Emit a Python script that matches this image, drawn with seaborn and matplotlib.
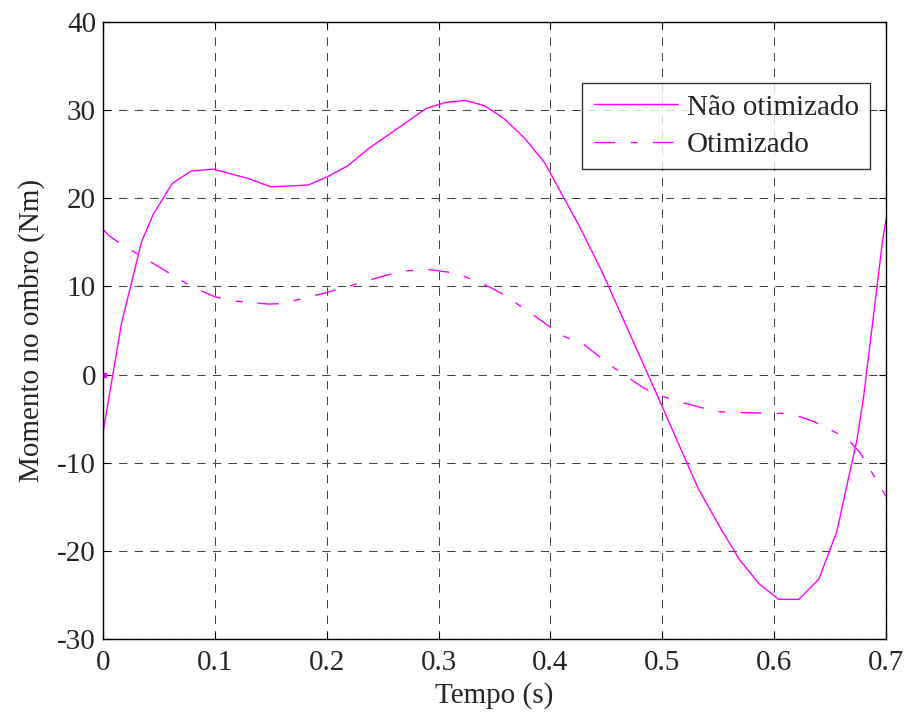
import matplotlib
matplotlib.use("Agg")
import matplotlib.pyplot as plt
import seaborn as sns
import pandas as pd

# Não otimizado (solid)
t_nao = [0.0, 0.0167, 0.0346, 0.045, 0.062, 0.079, 0.0986, 0.131, 0.150, 0.1835,
         0.200, 0.219, 0.237, 0.271, 0.289, 0.307, 0.324, 0.341, 0.359, 0.377,
         0.395, 0.426, 0.446, 0.496, 0.532, 0.552, 0.569, 0.587, 0.604, 0.622,
         0.640, 0.656, 0.674, 0.680, 0.697, 0.700]
v_nao = [-6.6, 5.9, 15.1, 18.2, 21.7, 23.1, 23.3, 22.2, 21.3, 21.5,
         22.4, 23.7, 25.6, 28.6, 30.2, 30.9, 31.1, 30.5, 29.0, 26.8,
         24.0, 16.8, 11.7, -2.5, -12.9, -17.4, -21.0, -23.8, -25.5, -25.5,
         -23.2, -17.8, -7.4, -2.5, 15.3, 17.6]

# Otimizado (dash-dot)
t_oti = [0.0, 0.005, 0.015, 0.079, 0.0986, 0.112, 0.148, 0.160, 0.200, 0.219,
         0.265, 0.274, 0.292, 0.316, 0.343, 0.358, 0.391, 0.409, 0.430, 0.453,
         0.483, 0.496, 0.513, 0.548, 0.566, 0.605, 0.614, 0.635, 0.665, 0.677, 0.700]
v_oti = [16.5, 15.8, 14.9, 10.0, 8.9, 8.4, 8.0, 8.05, 9.3, 10.0,
         11.7, 11.8, 11.9, 11.5, 10.1, 9.1, 6.2, 4.5, 3.4, 1.1,
         -1.5, -2.3, -3.0, -4.2, -4.3, -4.4, -4.4, -5.3, -7.2, -8.9, -13.8]

labels = ["Não otimizado", "Otimizado"]
xticks = [0, 0.1, 0.2, 0.3, 0.4, 0.5, 0.6, 0.7]
yticks = [-30, -20, -10, 0, 10, 20, 30, 40]

sns.set_style("white")
plt.rcParams['font.family'] = ['Liberation Serif', 'DejaVu Serif']

FS = 21
fig = plt.figure(figsize=(9.08, 7.16), dpi=100)
ax = fig.add_axes([0.1134, 0.1075, 0.8624, 0.8618])

df1 = pd.DataFrame({"t": t_nao, "v": v_nao})
df2 = pd.DataFrame({"t": t_oti, "v": v_oti})
sns.lineplot(data=df1, x="t", y="v", sort=False, color="#FF00FF", lw=1.0,
             ax=ax, label=labels[0])
sns.lineplot(data=df2, x="t", y="v", sort=False, color="#FF00FF", lw=1.0,
             ax=ax, label=labels[1], dashes=False)
ax.lines[-1].set_dashes([15, 11, 5, 11])
ax.plot([0.0005], [0.0], marker='s', ms=2.5, color="#FF00FF", lw=0)

ax.set_xlim(0, 0.7)
ax.set_ylim(-30, 40)
ax.set_xticks(xticks)
ax.set_xticklabels([f"{v:g}" for v in xticks])
ax.set_yticks(yticks)
ax.set_yticklabels([f"{v:g}" for v in yticks])
ax.grid(True, color="#444444", linestyle=(0, (8, 7)), linewidth=0.75)
ax.tick_params(direction='in', length=5, width=0.8, labelsize=FS,
               top=True, right=True, bottom=True, left=True, color='black')
ax.tick_params(axis='x', pad=8)
ax.tick_params(axis='y', pad=5)
for s in ax.spines.values():
    s.set_color("black")
    s.set_linewidth(1.0)
ax.set_xlabel("Tempo (s)", fontsize=FS, labelpad=4)
ax.set_ylabel("Momento no ombro (Nm)", fontsize=FS, labelpad=9)

leg = ax.legend(loc="upper right", bbox_to_anchor=(0.9796, 0.901), borderaxespad=0,
                fontsize=FS, frameon=True, fancybox=False, handlelength=2.9,
                labelspacing=0.38, borderpad=0.38, handletextpad=0.3)
leg.get_frame().set_edgecolor("black")
leg.get_frame().set_linewidth(1.0)

fig.savefig("out.png", dpi=100)
